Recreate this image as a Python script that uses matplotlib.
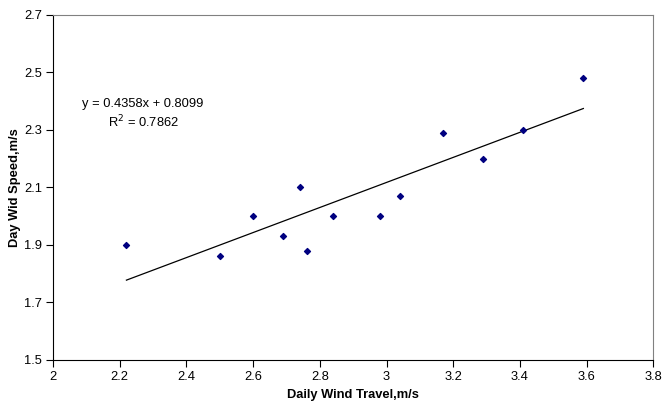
import matplotlib
matplotlib.use("Agg")
from matplotlib import pyplot as plt
import numpy as np

travel = [2.22, 2.50, 2.60, 2.69, 2.74, 2.76, 2.84, 2.98, 3.04, 3.17, 3.29, 3.41, 3.59]
speed = [1.90, 1.86, 2.00, 1.93, 2.10, 1.88, 2.00, 2.00, 2.07, 2.29, 2.20, 2.30, 2.48]
slope = 0.4358
intercept = 0.8099
r_squared = 0.7862
x_ticks = [2, 2.2, 2.4, 2.6, 2.8, 3, 3.2, 3.4, 3.6, 3.8]
y_ticks = [1.5, 1.7, 1.9, 2.1, 2.3, 2.5, 2.7]

plt.rcParams['font.family'] = ['Liberation Sans', 'DejaVu Sans']

fig = plt.figure(figsize=(6.63, 4.03), dpi=100)
ax = fig.add_axes([0.08, 0.107, 0.9055, 0.856])

ax.scatter(travel, speed, marker='D', s=9, color='#000080', zorder=3)
fit_x = np.array([min(travel), max(travel)])
ax.plot(fit_x, slope * fit_x + intercept, color='black', linewidth=0.9)

ax.set_xlim(2, 3.8)
ax.set_ylim(1.5, 2.7)
ax.set_xticks(x_ticks)
ax.set_xticklabels([f"{t:g}" for t in x_ticks])
ax.set_yticks(y_ticks)
ax.set_yticklabels([f"{t:g}" for t in y_ticks])
ax.tick_params(direction='out', length=5, width=0.8, labelsize=9.3, pad=3)

for side in ['top', 'right']:
    ax.spines[side].set_color('#808080')
for side in ['left', 'bottom']:
    ax.spines[side].set_color('black')

ax.set_xlabel("Daily Wind Travel,m/s", fontsize=9.3, fontweight='bold', labelpad=4)
ax.set_ylabel("Day Wid Speed,m/s", fontsize=9.3, fontweight='bold', labelpad=2)

ax.text(2.27, 2.39, f"y = {slope}x + {intercept}", fontsize=9.3, ha='center', va='center')
ax.text(2.27, 2.328, f"R$^2$ = {r_squared}", fontsize=9.3, ha='center', va='center')

fig.savefig("out.png", dpi=100)
